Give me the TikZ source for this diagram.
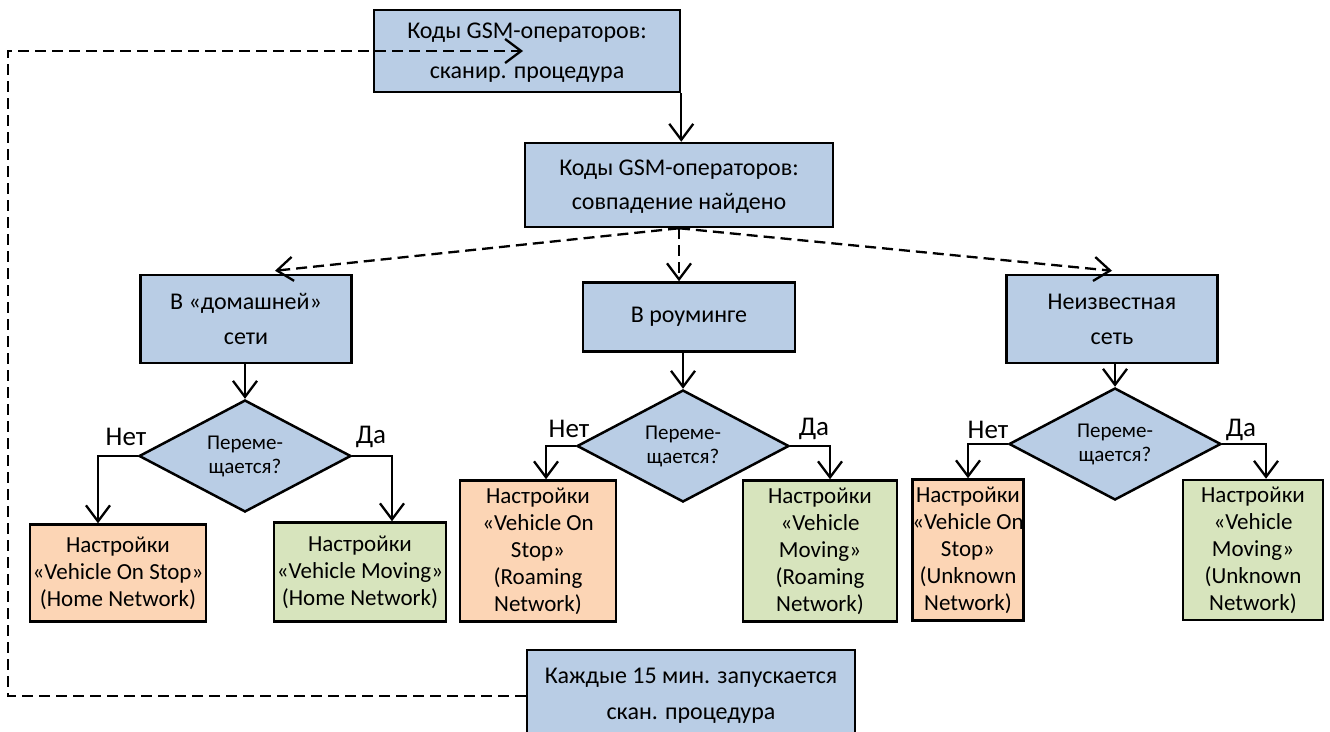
\documentclass[tikz,border=0pt]{standalone}
\usepackage{fontspec}
\setmainfont{Carlito}
\usepackage{tikz}
\usetikzlibrary{shapes.geometric, arrows.meta, positioning}
\usepackage{xcolor}
\definecolor{boxblue}{HTML}{B9CDE5}
\definecolor{boxorange}{HTML}{FCD5B5}
\definecolor{boxgreen}{HTML}{D7E4BD}
\tikzstyle{process} = [rectangle, inner sep=0pt, align=center, draw=black, line width=2.5pt, fill=boxblue, font=\fontsize{24}{35}\selectfont]
\tikzstyle{decision} = [diamond, inner sep=0pt, aspect=1.9, minimum width=212pt, minimum height=112pt, align=center, draw=black, line width=2.5pt, fill=boxblue, font=\fontsize{21}{24}\selectfont]
\tikzstyle{stopbox} = [rectangle, inner sep=0pt, align=center, draw=black, line width=2.5pt, fill=boxorange, font=\fontsize{23}{27}\selectfont]
\tikzstyle{movebox} = [stopbox, fill=boxgreen]
\tikzstyle{answer} = [inner sep=0pt, font=\fontsize{27}{30}\selectfont]
\tikzstyle{arrow} = [line width=2.3pt, -{Straight Barb[length=16pt,width=24pt]}]
\tikzstyle{dasharrow} = [arrow, dash pattern=on 11pt off 6pt]

\begin{document}
\begin{tikzpicture}[x=1pt, y=-1pt]
\useasboundingbox (0,0) rectangle (1330,731);

% Scan and match
\node (gsmscan) [process, minimum width=306pt, minimum height=82pt, font=\fontsize{24}{40}\selectfont, text depth=0pt] at (527,51) {Коды GSM-операторов:\\сканир. процедура};
\node (gsmmatch) [process, minimum width=308pt, minimum height=84pt, font=\fontsize{24}{34}\selectfont, text depth=0pt] at (679,185) {Коды GSM-операторов:\\совпадение найдено};

% Network type
\node (home) [process, minimum width=211pt, minimum height=88pt] at (246,319) {В «домашней»\\сети};
\node (roam) [process, minimum width=212pt, minimum height=69pt] at (689,317) {В роуминге};
\node (unknown) [process, minimum width=211pt, minimum height=88pt] at (1112,319) {Неизвестная\\сеть};

% Moving?
\node (qhome) [decision] at (245,456) {Переме-\\щается?};
\node (qroam) [decision] at (683,446) {Переме-\\щается?};
\node (qunk) [decision] at (1115,444) {Переме-\\щается?};

\node (nohome) [answer] at (126,437) {Нет};
\node (yeshome) [answer] at (371,437) {Да};
\node (noroam) [answer] at (569,429) {Нет};
\node (yesroam) [answer] at (814,429) {Да};
\node (nounk) [answer] at (988,430) {Нет};
\node (yesunk) [answer] at (1241,430) {Да};

% Settings
\node (stophome) [stopbox, minimum width=176pt, minimum height=97pt] at (118,573) {Настройки\\«Vehicle On Stop»\\(Home Network)};
\node (movehome) [movebox, minimum width=172pt, minimum height=99pt] at (360,572) {Настройки\\«Vehicle Moving»\\(Home Network)};
\node (stoproam) [stopbox, minimum width=156pt, minimum height=141pt] at (538,551) {Настройки\\«Vehicle On\\Stop»\\(Roaming\\Network)};
\node (moveroam) [movebox, minimum width=154pt, minimum height=141pt] at (820,551) {Настройки\\«Vehicle\\Moving»\\(Roaming\\Network)};
\node (stopunk) [stopbox, minimum width=106pt, minimum height=141pt] at (968,550) {Настройки\\«Vehicle On\\Stop»\\(Unknown\\Network)};
\node (moveunk) [movebox, minimum width=140pt, minimum height=140pt] at (1253,550) {Настройки\\«Vehicle\\Moving»\\(Unknown\\Network)};

% Timer
\node (timer) [process, minimum width=328pt, minimum height=92pt, font=\fontsize{24}{36}\selectfont] at (691,696) {Каждые 15 мин. запускается\\скан. процедура};
\coordinate (loopcorner) at (8,51);

% Arrows
\draw [arrow] (gsmscan.south east) -- (gsmscan.south east |- gsmmatch.north);
\draw [dasharrow] (gsmmatch.south) -- ([xshift=29pt,yshift=3pt]home.north);
\draw [dasharrow] (gsmmatch.south) -- (gsmmatch.south |- roam.north);
\draw [dasharrow] (gsmmatch.south) -- ([yshift=3pt]unknown.north);
\draw [arrow] (qhome.north |- home.south) -- (qhome.north);
\draw [arrow] (qroam.north |- roam.south) -- (qroam.north);
\draw [arrow] (qunk.north |- unknown.south) -- (qunk.north);
\draw [arrow] (qhome.west) -| ([xshift=-20pt]stophome.north);
\draw [arrow] (qhome.east) -| ([xshift=32pt]movehome.north);
\draw [arrow] (qroam.west) -| ([xshift=8pt]stoproam.north);
\draw [arrow] (qroam.east) -| ([xshift=10pt]moveroam.north);
\draw [arrow] (qunk.west) -| (stopunk.north);
\draw [arrow] (qunk.east) -| ([xshift=13pt]moveunk.north);
\draw [dasharrow] (timer.west) -| (loopcorner) -- ([xshift=-4pt]gsmscan.center);

\end{tikzpicture}
\end{document}
